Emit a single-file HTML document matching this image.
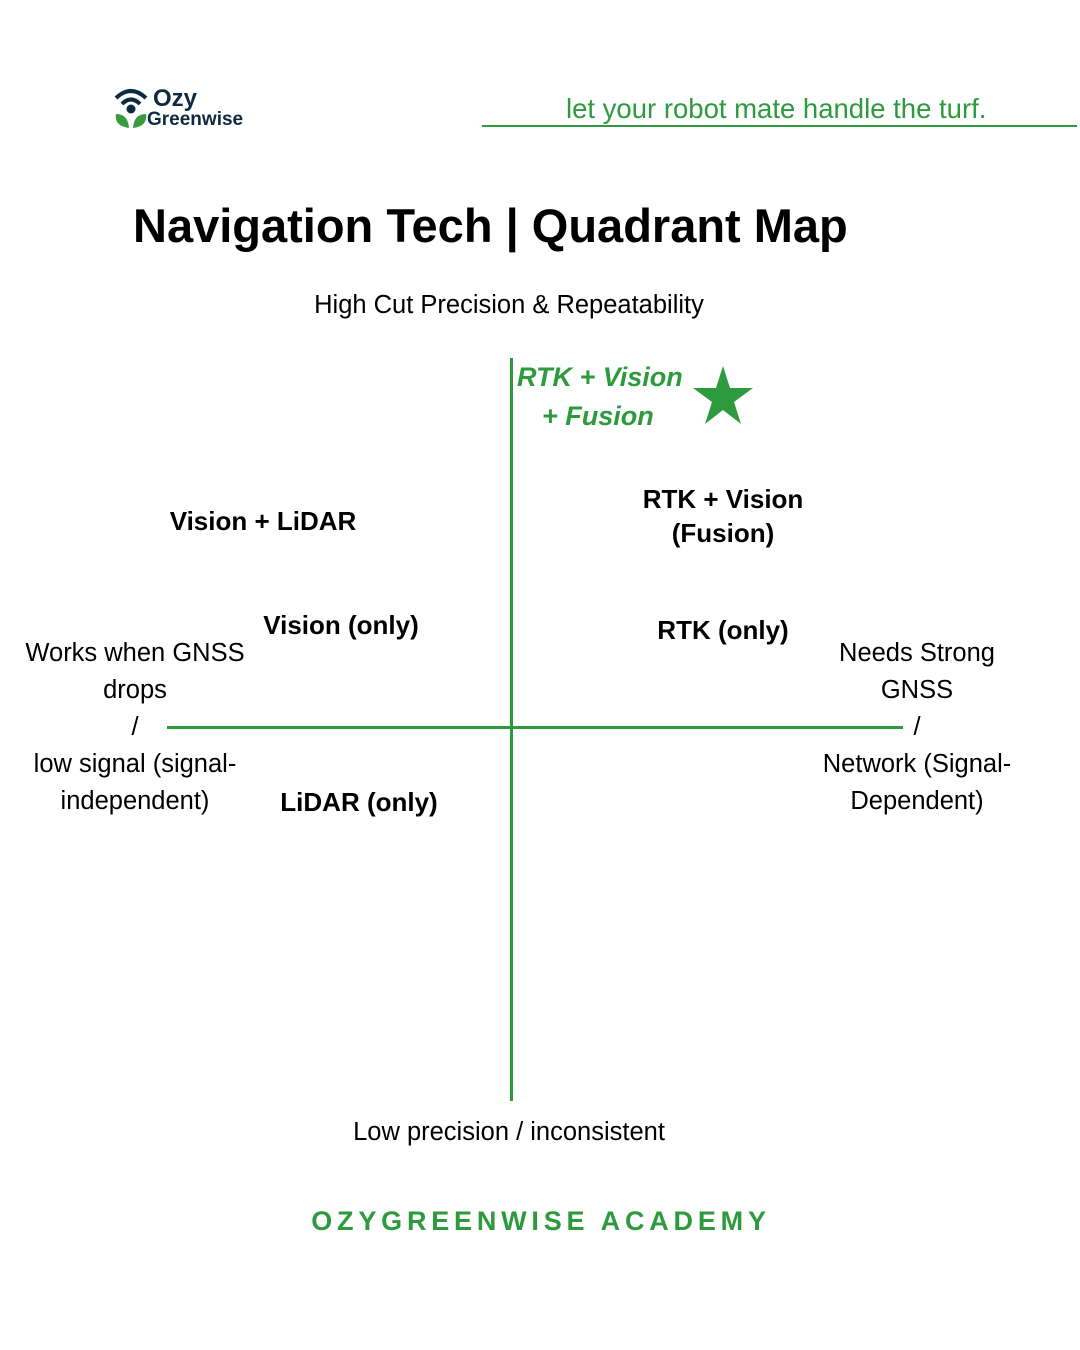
<!DOCTYPE html>
<html><head><style>
body{margin:0;width:1080px;height:1350px;background:#fff;position:relative;font-family:"Liberation Sans",sans-serif;color:#000;overflow:hidden}
.a{position:absolute;white-space:nowrap}
.c{text-align:center;transform:translateX(-50%)}
.b{font-weight:bold;font-size:26px;line-height:34px}
.n{font-size:25.5px;line-height:37px}
.g{color:#2e9a3e}
</style></head><body>
<svg class="a" style="left:112px;top:84px" width="40" height="46" viewBox="0 0 40 46">
<path d="M4 14 Q19 0 34 14" stroke="#0f2a40" stroke-width="4" fill="none"/>
<path d="M10 20 Q19 11 28 20" stroke="#0f2a40" stroke-width="4" fill="none"/>
<circle cx="19" cy="25" r="4.5" fill="#0f2a40"/>
<path d="M17 44 Q2 42 4 30 Q16 30 17 44Z" fill="#3a9a3e"/>
<path d="M21 44 Q36 42 34 30 Q22 30 21 44Z" fill="#3a9a3e"/>
</svg>
<div class="a" style="left:153px;top:86px;font-size:24px;font-weight:bold;color:#0f2a40;line-height:26px">Ozy</div>
<div class="a" style="left:147px;top:109px;font-size:19px;font-weight:bold;color:#0f2a40;line-height:22px">Greenwise</div>
<div class="a g" style="left:566px;top:94px;font-size:27.5px;line-height:30px">let your robot mate handle the turf.</div>
<div class="a" style="left:482px;top:125px;width:595px;height:2px;background:#2e9a3e"></div>
<div class="a" style="left:133px;top:198px;font-size:47px;font-weight:bold;line-height:56px;letter-spacing:0px">Navigation Tech | Quadrant Map</div>
<div class="a c n" style="left:509px;top:287px">High Cut Precision &amp; Repeatability</div>
<div class="a" style="left:510px;top:358px;width:3px;height:743px;background:#2e9a3e"></div>
<div class="a" style="left:167px;top:726px;width:736px;height:3px;background:#2e9a3e"></div>
<div class="a g" style="left:517px;top:357px;font-size:27px;font-weight:bold;font-style:italic;line-height:40px">RTK + Vision</div>
<div class="a g" style="left:542px;top:398px;font-size:27px;font-weight:bold;font-style:italic;line-height:36px">+ Fusion</div>
<svg class="a" style="left:692px;top:365px" width="62" height="60" viewBox="0 0 62 60"><polygon points="31,1 38,23 61,23 42,37 49,59 31,45 13,59 20,37 1,23 24,23" fill="#2e9a3e"/></svg>
<div class="a c b" style="left:263px;top:504px">Vision + LiDAR</div>
<div class="a c b" style="left:723px;top:482px">RTK + Vision<br>(Fusion)</div>
<div class="a c b" style="left:341px;top:608px">Vision (only)</div>
<div class="a c b" style="left:723px;top:613px">RTK (only)</div>
<div class="a c b" style="left:359px;top:785px">LiDAR (only)</div>
<div class="a c n" style="left:135px;top:635px">Works when GNSS<br>drops<br>/<br>low signal (signal-<br>independent)</div>
<div class="a c n" style="left:917px;top:635px">Needs Strong<br>GNSS<br>/<br>Network (Signal-<br>Dependent)</div>
<div class="a c n" style="left:509px;top:1114px">Low precision / inconsistent</div>
<div class="a c g" style="left:541px;top:1205px;font-size:27px;font-weight:bold;letter-spacing:4.8px;line-height:32px">OZYGREENWISE ACADEMY</div>
</body></html>
